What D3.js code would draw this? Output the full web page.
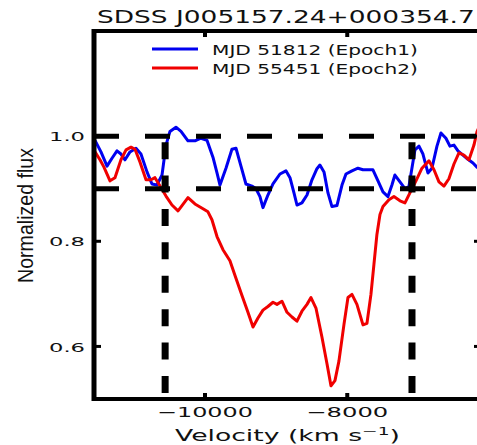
<!DOCTYPE html>
<html>
<head>
<meta charset="utf-8">
<script src="https://cdn.jsdelivr.net/npm/d3@7"></script>
<style>
  html, body { margin: 0; padding: 0; background: #fff; }
  svg { display: block; }
</style>
</head>
<body>
<script>
// Epoch 1 spectrum (MJD 51812): velocity (km/s) and normalized flux
const epoch1Velocity = [-11546,-11462,-11377,-11307,-11237,-11181,-11124,-11054,-10970,-10900,-10815,-10745,-10675,-10604,-10548,-10492,-10408,-10337,-10239,-10141,-10056,-9972,-9888,-9831,-9789,-9705,-9621,-9564,-9494,-9424,-9339,-9283,-9227,-9185,-9115,-9044,-8946,-8862,-8805,-8749,-8707,-8637,-8566,-8496,-8426,-8384,-8327,-8271,-8215,-8145,-8074,-8018,-7934,-7850,-7779,-7639,-7568,-7498,-7428,-7372,-7330,-7259,-7189,-7133,-7091,-7048,-6992,-6936,-6866,-6810,-6739,-6683,-6613,-6557,-6500,-6444,-6374,-6304,-6233,-6177,-6107];
const epoch1Flux = [0.992,0.970,0.943,0.958,0.972,0.966,0.955,0.970,0.977,0.966,0.932,0.909,0.907,0.926,0.983,1.009,1.017,1.009,0.991,0.991,0.996,0.992,0.960,0.930,0.907,0.939,0.975,0.977,0.943,0.909,0.905,0.900,0.885,0.864,0.888,0.909,0.928,0.934,0.921,0.892,0.869,0.873,0.888,0.917,0.938,0.945,0.932,0.892,0.866,0.868,0.907,0.928,0.934,0.939,0.936,0.936,0.915,0.894,0.885,0.907,0.926,0.913,0.900,0.904,0.939,0.974,0.981,0.966,0.930,0.939,0.981,1.006,0.996,0.981,0.983,0.972,0.964,0.956,0.949,0.941,0.935];

// Epoch 2 spectrum (MJD 55451)
const epoch2Velocity = [-11546,-11476,-11420,-11335,-11265,-11181,-11110,-11040,-10984,-10914,-10829,-10759,-10703,-10632,-10548,-10464,-10379,-10323,-10239,-10141,-10028,-9958,-9902,-9831,-9747,-9649,-9578,-9480,-9396,-9325,-9255,-9185,-9115,-9044,-8988,-8918,-8847,-8777,-8707,-8637,-8566,-8510,-8440,-8356,-8285,-8229,-8173,-8117,-8046,-7990,-7934,-7864,-7779,-7723,-7667,-7625,-7583,-7540,-7498,-7414,-7344,-7259,-7189,-7119,-7034,-6950,-6852,-6781,-6711,-6641,-6571,-6500,-6430,-6360,-6289,-6219,-6177,-6107];
const epoch2Flux = [0.970,0.955,0.941,0.915,0.921,0.955,0.974,0.979,0.975,0.951,0.917,0.917,0.921,0.905,0.886,0.869,0.858,0.868,0.883,0.871,0.862,0.856,0.841,0.809,0.784,0.763,0.735,0.697,0.665,0.637,0.654,0.669,0.676,0.684,0.680,0.686,0.665,0.656,0.648,0.667,0.680,0.693,0.673,0.618,0.567,0.525,0.535,0.572,0.642,0.693,0.699,0.680,0.641,0.644,0.699,0.756,0.813,0.851,0.866,0.879,0.885,0.877,0.873,0.892,0.915,0.939,0.953,0.936,0.913,0.905,0.919,0.947,0.968,0.964,0.955,0.983,1.008,1.030];

const seriesLabels = ["MJD 51812 (Epoch1)", "MJD 55451 (Epoch2)"];
const seriesColors = ["#0000f0", "#f00000"];

// Axis ticks
const xTicks = [-10000, -8000];
const xTickLabels = ["\u221210000", "\u22128000"];
const yTicks = [0.6, 0.8, 1.0];
const yTickLabels = ["0.6", "0.8", "1.0"];

// Absorption trough bounds: flux levels and velocity limits
const fluxLevels = [1.0, 0.9];
const velocityLimits = [-10560, -7090];

const titleText = "SDSS J005157.24+000354.7";

const W = 477, H = 445;
const plotLeft = 94, plotRight = 481, plotTop = 31, plotBottom = 399;

const x = d3.scaleLinear().domain([-11560, -6120]).range([plotLeft, plotRight]);
const y = d3.scaleLinear().domain([0.5, 1.2]).range([plotBottom, plotTop]);

const svg = d3.select("body").append("svg")
  .attr("width", W).attr("height", H)
  .attr("viewBox", `0 0 ${W} ${H}`);

svg.append("defs").append("clipPath").attr("id", "plotClip")
  .append("rect").attr("x", plotLeft).attr("y", plotTop)
  .attr("width", plotRight - plotLeft).attr("height", plotBottom - plotTop);

// Stretch a horizontal text element to a given width
function fitText(sel, x0, yBase, width, anchor) {
  const w = sel.node().getBBox().width;
  const s = width / w;
  const xs = anchor === "middle" ? x0 - width / 2 : anchor === "end" ? x0 - width : x0;
  sel.attr("transform", `translate(${xs},${yBase}) scale(${s},1)`);
}

// Spectra
const line = d3.line().x(d => x(d[0])).y(d => y(d[1]));
const series = [
  d3.zip(epoch1Velocity, epoch1Flux),
  d3.zip(epoch2Velocity, epoch2Flux)
];
const plot = svg.append("g").attr("clip-path", "url(#plotClip)");
series.forEach((pts, i) => {
  plot.append("path").datum(pts)
    .attr("d", line)
    .attr("fill", "none")
    .attr("stroke", seriesColors[i])
    .attr("stroke-width", 3)
    .attr("stroke-linejoin", "round");
});

// Dashed reference lines
fluxLevels.forEach(f => {
  plot.append("line")
    .attr("x1", x.range()[0]).attr("x2", x.range()[1])
    .attr("y1", y(f)).attr("y2", y(f))
    .attr("stroke", "#000").attr("stroke-width", 5)
    .attr("stroke-dasharray", "25 26");
});
velocityLimits.forEach(v => {
  plot.append("line")
    .attr("x1", x(v)).attr("x2", x(v))
    .attr("y1", y(1.0)).attr("y2", y(0.5))
    .attr("stroke", "#000").attr("stroke-width", 7)
    .attr("stroke-dasharray", "17 16.4")
    .attr("stroke-dashoffset", -6);
});

// Frame
const frame = svg.append("g").attr("stroke", "#000");
frame.append("line").attr("x1", plotLeft).attr("x2", plotLeft).attr("y1", plotTop - 2).attr("y2", plotBottom + 2).attr("stroke-width", 5);
frame.append("line").attr("x1", plotRight).attr("x2", plotRight).attr("y1", plotTop - 2).attr("y2", plotBottom + 2).attr("stroke-width", 5);
frame.append("line").attr("x1", plotLeft - 2).attr("x2", plotRight + 2).attr("y1", plotTop).attr("y2", plotTop).attr("stroke-width", 4);
frame.append("line").attr("x1", plotLeft - 2).attr("x2", plotRight + 2).attr("y1", plotBottom).attr("y2", plotBottom).attr("stroke-width", 4);

// Inward ticks
xTicks.forEach(t => {
  frame.append("line").attr("x1", x(t)).attr("x2", x(t)).attr("y1", plotBottom).attr("y2", plotBottom - 6).attr("stroke-width", 4);
  frame.append("line").attr("x1", x(t)).attr("x2", x(t)).attr("y1", plotTop).attr("y2", plotTop + 6).attr("stroke-width", 4);
});
yTicks.forEach(t => {
  frame.append("line").attr("x1", plotLeft).attr("x2", plotLeft + 7).attr("y1", y(t)).attr("y2", y(t)).attr("stroke-width", 3);
  frame.append("line").attr("x1", plotRight).attr("x2", plotRight - 7).attr("y1", y(t)).attr("y2", y(t)).attr("stroke-width", 3);
});

const font = "'DejaVu Sans', sans-serif";

// Tick labels
yTicks.forEach((t, i) => {
  const tx = svg.append("text").text(yTickLabels[i])
    .attr("font-family", font).attr("font-size", 13).attr("fill", "#111");
  fitText(tx, 85, y(t) + 5.2, 36, "end");
});
xTicks.forEach((t, i) => {
  const tx = svg.append("text").text(xTickLabels[i])
    .attr("font-family", font).attr("font-size", 13.5).attr("fill", "#111");
  fitText(tx, x(t), 417, i === 0 ? 96 : 82, "middle");
});

// Title
const title = svg.append("text").text(titleText)
  .attr("font-family", font).attr("font-size", 18).attr("fill", "#111");
fitText(title, 286, 23, 378, "middle");

// X axis label with superscript
const xl = svg.append("text").attr("font-family", font).attr("font-size", 15).attr("fill", "#111");
xl.append("tspan").text("Velocity (km s");
xl.append("tspan").text("\u22121").attr("font-size", 10.5).attr("dy", -6);
xl.append("tspan").text(")").attr("dy", 6);
fitText(xl, 287.5, 441, 225, "middle");

// Y axis label
const yl = svg.append("text").text("Normalized flux")
  .attr("font-family", "'Liberation Sans', Arial, sans-serif")
  .attr("font-size", 17).attr("fill", "#111")
  .attr("text-anchor", "middle");
const yLen = yl.node().getComputedTextLength();
yl.attr("transform", `translate(33,215.5) scale(1.35,${135 / yLen}) rotate(-90)`);

// Legend
seriesLabels.forEach((lab, i) => {
  const ly = 49 + i * 19;
  svg.append("line").attr("x1", 152).attr("x2", 198).attr("y1", ly).attr("y2", ly)
    .attr("stroke", seriesColors[i]).attr("stroke-width", 3);
  const tx = svg.append("text").text(lab)
    .attr("font-family", font).attr("font-size", 13.5).attr("fill", "#111");
  fitText(tx, 212, ly + 5.5, 206, "start");
});
</script>
</body>
</html>
